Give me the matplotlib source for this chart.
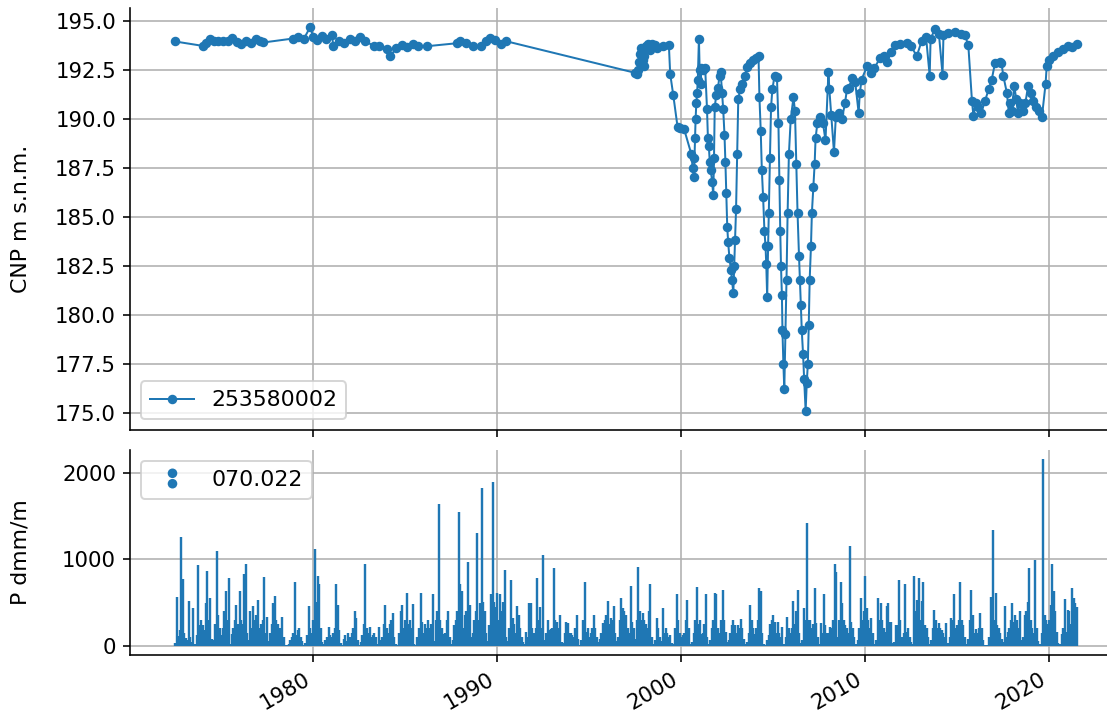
import datetime as dt
import numpy as np
import pandas as pd
import matplotlib
matplotlib.use("Agg")
import matplotlib.pyplot as plt
import matplotlib.dates as mdates
from matplotlib.path import Path
from matplotlib.lines import Line2D

# ---------------- data ----------------
series_level_name = "253580002"
series_precip_name = "070.022"

# groundwater level: decimal years and values (m s.n.m.)
level_years = [
    1972.50, 1974.04, 1974.20, 1974.40, 1974.60, 1974.85, 1975.10, 1975.40, 1975.60, 1975.85,
    1976.10, 1976.35, 1976.60, 1976.90, 1977.10, 1977.30, 1978.90, 1979.20, 1979.50, 1979.84,
    1980.00, 1980.20, 1980.50, 1980.70, 1981.00, 1981.10, 1981.40, 1981.70, 1982.00, 1982.30,
    1982.55, 1982.80, 1983.30, 1983.60, 1984.00, 1984.20, 1984.50, 1984.80, 1985.10, 1985.40,
    1985.70, 1986.20, 1987.80, 1988.00, 1988.30, 1988.70, 1989.10, 1989.40, 1989.60, 1989.90,
    1990.20, 1990.50,
    1997.50, 1997.60, 1997.65, 1997.70, 1997.75, 1997.80, 1997.85, 1997.90, 1997.95, 1998.00,
    1998.10, 1998.20, 1998.30, 1998.40, 1998.55, 1998.70, 1999.00, 1999.33, 1999.40, 1999.57,
    1999.80, 1999.95, 2000.15, 2000.55, 2000.62, 2000.70, 2000.72, 2000.75, 2000.78, 2000.82,
    2000.86, 2000.90, 2000.96, 2001.00, 2001.05, 2001.10, 2001.20, 2001.30, 2001.40, 2001.45,
    2001.50, 2001.55, 2001.60, 2001.68, 2001.74, 2001.78, 2001.82, 2001.90, 2002.00, 2002.08,
    2002.14, 2002.22, 2002.28, 2002.35, 2002.40, 2002.45, 2002.50, 2002.55, 2002.62, 2002.70,
    2002.76, 2002.83, 2002.88, 2002.93, 2002.98, 2003.04, 2003.10, 2003.20, 2003.30, 2003.45,
    2003.60, 2003.75, 2003.90, 2004.05, 2004.20, 2004.25, 2004.32, 2004.38, 2004.45, 2004.52,
    2004.58, 2004.62, 2004.67, 2004.72, 2004.76, 2004.82, 2004.88, 2004.95, 2005.07, 2005.20,
    2005.28, 2005.33, 2005.38, 2005.42, 2005.47, 2005.50, 2005.55, 2005.60, 2005.66, 2005.72,
    2005.78, 2005.85, 2005.95, 2006.10, 2006.18, 2006.25, 2006.32, 2006.40, 2006.45, 2006.50,
    2006.55, 2006.62, 2006.68, 2006.76, 2006.82, 2006.88, 2006.93, 2006.98, 2007.05, 2007.10,
    2007.18, 2007.25, 2007.30, 2007.40, 2007.55, 2007.70, 2007.84, 2008.00, 2008.05, 2008.15,
    2008.30, 2008.40, 2008.55, 2008.73, 2008.90, 2009.00, 2009.10, 2009.30, 2009.45, 2009.64,
    2009.70, 2009.80, 2010.10, 2010.30, 2010.50, 2010.80, 2011.00, 2011.20, 2011.40, 2011.60,
    2011.90, 2012.26, 2012.50, 2012.80, 2013.07, 2013.30, 2013.50, 2013.55, 2013.80, 2014.00,
    2014.20, 2014.25, 2014.50, 2014.90, 2015.20, 2015.40, 2015.60, 2015.80, 2015.88, 2016.00,
    2016.10, 2016.30, 2016.50, 2016.70, 2016.87, 2017.05, 2017.30, 2017.40, 2017.50, 2017.70,
    2017.80, 2017.85, 2017.95, 2018.10, 2018.20, 2018.30, 2018.40, 2018.55, 2018.70, 2018.85,
    2019.00, 2019.10, 2019.30, 2019.45, 2019.60, 2019.80, 2019.86, 2020.00, 2020.20, 2020.50,
    2020.75, 2021.00, 2021.25, 2021.50,
]
level_values = [
    193.95, 193.72, 193.85, 194.08, 193.95, 193.95, 194.00, 193.98, 194.15, 193.90,
    193.80, 194.00, 193.85, 194.10, 193.95, 193.90, 194.10, 194.20, 194.10, 194.68,
    194.20, 194.05, 194.25, 194.10, 194.30, 193.74, 194.00, 193.85, 194.10, 194.00,
    194.18, 193.95, 193.74, 193.70, 193.55, 193.20, 193.60, 193.75, 193.65, 193.80,
    193.70, 193.71, 193.86, 194.00, 193.85, 193.70, 193.70, 194.00, 194.13, 194.05,
    193.83, 193.96,
    192.35, 192.30, 192.50, 192.90, 193.30, 193.60, 193.40, 193.00, 192.70, 193.20,
    193.70, 193.80, 193.50, 193.80, 193.75, 193.60, 193.70, 193.76, 192.30, 191.20,
    189.60, 189.55, 189.50, 188.20, 187.50, 187.05, 188.00, 189.00, 190.00, 190.80,
    191.30, 192.00, 194.10, 192.50, 191.80, 192.60, 192.50, 192.60, 190.50, 189.00,
    188.60, 187.80, 187.40, 186.80, 186.10, 188.00, 190.60, 191.20, 191.60, 192.20,
    192.40, 191.30, 190.50, 189.20, 187.80, 186.20, 184.50, 183.70, 182.90, 182.30,
    181.80, 181.10, 182.50, 183.80, 185.40, 188.20, 191.00, 191.50, 191.80, 192.20,
    192.65, 192.85, 193.00, 193.10, 193.20, 191.10, 189.40, 187.40, 186.00, 184.30,
    183.50, 182.60, 180.90, 183.50, 185.20, 188.00, 190.60, 191.50, 192.20, 192.15,
    189.80, 186.90, 184.30, 182.50, 181.00, 179.20, 177.50, 176.20, 179.00, 181.80,
    185.20, 188.20, 190.00, 191.10, 190.40, 187.70, 185.20, 183.00, 181.80, 180.50,
    179.20, 178.00, 176.70, 175.10, 176.50, 177.50, 179.50, 181.80, 183.50, 185.20,
    186.50, 187.70, 189.00, 189.80, 190.10, 189.80, 188.90, 192.40, 191.50, 190.20,
    188.30, 190.10, 190.30, 190.00, 190.80, 191.50, 191.60, 192.10, 191.90, 190.30,
    191.30, 192.00, 192.70, 192.35, 192.60, 193.10, 193.20, 192.90, 193.40, 193.75,
    193.80, 193.85, 193.70, 193.20, 194.00, 194.20, 192.20, 194.10, 194.60, 194.35,
    192.25, 194.30, 194.40, 194.45, 194.35, 194.30, 193.77, 190.90, 190.15, 190.80,
    190.60, 190.30, 190.90, 191.50, 192.00, 192.85, 192.90, 192.85, 192.20, 191.30,
    190.30, 190.80, 190.40, 191.70, 191.00, 190.30, 190.80, 190.40, 190.80, 191.70,
    191.30, 190.90, 190.60, 190.40, 190.10, 191.80, 192.70, 193.00, 193.20, 193.40,
    193.55, 193.70, 193.65, 193.80,
]

# monthly precipitation (dmm/month), starting July 1972
precip_start = "1972-07-01"
precip_1972_1979 = [
    30, 560, 110, 180, 1256, 770,                                  # 1972 Jul-Dec
    150, 90, 60, 520, 100, 40, 435, 20, 120, 928, 240, 300,         # 1973
    237, 180, 494, 861, 300, 553, 80, 60, 250, 1094, 350, 200,      # 1974
    120, 200, 400, 632, 300, 782, 20, 138, 200, 300, 466, 250,      # 1975
    632, 300, 250, 830, 948, 150, 60, 395, 200, 454, 300, 350,      # 1976
    533, 200, 250, 300, 790, 150, 336, 50, 150, 250, 494, 573,      # 1977
    300, 250, 200, 200, 336, 100, 10, 5, 20, 60, 100, 150,          # 1978
    739, 120, 180, 200, 100, 50, 10, 30, 120, 454, 200, 150,        # 1979
]
precip_1980_1989 = [
    300, 1114, 500, 810, 711, 200, 40, 20, 60, 100, 217, 120,       # 1980
    100, 150, 200, 711, 474, 178, 30, 10, 80, 120, 50, 150,         # 1981
    100, 150, 200, 395, 316, 60, 10, 40, 120, 250, 948, 200,        # 1982
    150, 217, 100, 120, 150, 100, 20, 217, 60, 100, 250, 474,       # 1983
    200, 150, 250, 300, 375, 100, 20, 10, 150, 395, 474, 200,       # 1984
    300, 612, 250, 300, 200, 482, 20, 10, 100, 200, 612, 276,       # 1985
    150, 250, 200, 300, 200, 250, 592, 50, 300, 400, 1639, 300,     # 1986
    200, 138, 150, 300, 403, 100, 20, 60, 237, 300, 400, 1540,      # 1987
    711, 632, 200, 350, 400, 968, 474, 100, 150, 300, 400, 1303,    # 1988
    300, 494, 1825, 500, 400, 150, 50, 237, 600, 1896, 500, 450,    # 1989
]
precip_1990_1999 = [
    612, 300, 592, 400, 500, 877, 100, 50, 200, 758, 316, 250,      # 1990
    150, 454, 355, 200, 100, 40, 20, 158, 100, 494, 494, 200,       # 1991
    150, 200, 782, 300, 442, 200, 1043, 60, 150, 300, 178, 198,     # 1992
    200, 900, 300, 276, 200, 355, 40, 30, 150, 276, 257, 150,       # 1993
    150, 120, 100, 200, 355, 80, 10, 60, 300, 731, 158, 200,        # 1994
    100, 150, 200, 355, 200, 100, 40, 80, 150, 257, 300, 350,       # 1995
    521, 250, 316, 300, 454, 150, 50, 100, 300, 553, 434, 400,      # 1996
    350, 200, 150, 691, 276, 200, 80, 300, 908, 400, 300, 375,      # 1997
    300, 250, 200, 400, 711, 100, 20, 60, 316, 200, 100, 50,        # 1998
    434, 150, 200, 150, 100, 118, 30, 20, 200, 592, 300, 150,       # 1999
]
precip_2000_2009 = [
    100, 118, 150, 300, 525, 200, 20, 40, 150, 300, 683, 250,       # 2000
    300, 138, 150, 250, 592, 100, 20, 60, 200, 300, 612, 592,       # 2001
    200, 150, 300, 640, 300, 158, 40, 60, 150, 237, 300, 237,       # 2002
    150, 237, 200, 304, 200, 80, 20, 40, 150, 474, 300, 200,        # 2003
    138, 200, 300, 672, 632, 150, 20, 10, 60, 118, 250, 300,        # 2004
    355, 276, 150, 276, 150, 100, 217, 20, 100, 336, 200, 150,      # 2005
    200, 513, 250, 395, 640, 150, 30, 60, 434, 300, 1422, 300,      # 2006
    296, 200, 250, 672, 257, 100, 20, 257, 150, 592, 237, 150,      # 2007
    150, 217, 200, 300, 948, 850, 100, 300, 731, 494, 300, 237,     # 2008
    200, 150, 1157, 276, 200, 100, 20, 60, 200, 553, 300, 400,      # 2009
]
precip_2010_2021 = [
    810, 434, 300, 200, 316, 150, 20, 60, 553, 300, 494, 300,       # 2010
    200, 158, 454, 494, 276, 276, 30, 40, 237, 237, 762, 300,       # 2011
    100, 150, 711, 158, 200, 100, 40, 20, 810, 400, 533, 782,       # 2012
    300, 514, 731, 237, 200, 100, 20, 60, 200, 415, 300, 200,       # 2013
    257, 200, 178, 150, 100, 257, 30, 100, 316, 300, 592, 200,      # 2014
    237, 300, 731, 300, 237, 100, 20, 80, 300, 640, 350, 150,       # 2015
    198, 150, 200, 375, 200, 60, 10, 5, 10, 100, 561, 1331,         # 2016
    300, 612, 237, 200, 150, 80, 40, 454, 100, 158, 200, 300,       # 2017
    494, 276, 350, 300, 200, 395, 60, 100, 355, 400, 500, 900,      # 2018
    300, 200, 150, 995, 200, 50, 20, 150, 2153, 355, 300, 250,      # 2019
    300, 474, 940, 632, 400, 158, 30, 20, 138, 200, 541, 158,       # 2020
    415, 395, 250, 664, 553, 494, 450,                              # 2021 Jan-Jul
]

ylabel_top = "CNP m s.n.m."
ylabel_bottom = "P dmm/m"


def dec_to_dt(t):
    y = int(np.floor(t))
    start = dt.datetime(y, 1, 1)
    end = dt.datetime(y + 1, 1, 1)
    return start + (end - start) * (t - y)


level_dates = [dec_to_dt(t) for t in level_years]
precip_values = (precip_1972_1979 + precip_1980_1989 + precip_1990_1999
                 + precip_2000_2009 + precip_2010_2021)
precip_dates = pd.date_range(precip_start, periods=len(precip_values), freq="MS")

# ---------------- figure ----------------
plt.rcParams["font.size"] = 11
plt.rcParams["xtick.labelsize"] = 10.6
plt.rcParams["ytick.labelsize"] = 10.6

W, H, DPI = 1107, 719, 144
fig = plt.figure(figsize=(W / DPI, H / DPI), dpi=DPI)

ax_w = (1122 - 130) / W
ax1 = fig.add_axes([130 / W, 1 - 430 / H, ax_w, (430 - 8) / H])
ax2 = fig.add_axes([130 / W, 1 - 655 / H, ax_w, (655 - 450) / H], sharex=ax1)

color = "#1f77b4"
ax1.plot(level_dates, level_values, marker=".", markersize=7.5, lw=1, color=color,
         label=series_level_name)
ax2.vlines(precip_dates, 0, precip_values, colors=color, lw=1.2)

for ax in (ax1, ax2):
    ax.grid(True)
    ax.spines["top"].set_visible(False)
    ax.spines["right"].set_visible(False)

ax1.set_ylabel(ylabel_top)
ax2.set_ylabel(ylabel_bottom)
label_x = (31 - 130) / (ax_w * W)
ax1.yaxis.set_label_coords(label_x, 0.5)
ax2.yaxis.set_label_coords(label_x, 0.5)

ax2.set_yticks([0, 1000, 2000])
ax2.xaxis.set_major_locator(mdates.YearLocator(10))
ax2.xaxis.set_major_formatter(mdates.DateFormatter("%Y"))
ax1.tick_params(labelbottom=False)
for lab in ax2.get_xticklabels():
    lab.set_rotation(30)
    lab.set_ha("right")

ax1.legend(loc="lower left")

# custom legend marker: two stacked dots
two_dots = Path.make_compound_path(Path.circle((0, 0.5), 0.46), Path.circle((0, -0.5), 0.46))
proxy = Line2D([], [], linestyle="none", marker=two_dots, markersize=10,
               color=color, markeredgewidth=0)
ax2.legend([proxy], [series_precip_name], loc="upper left")

fig.savefig("out.png", dpi=DPI)
